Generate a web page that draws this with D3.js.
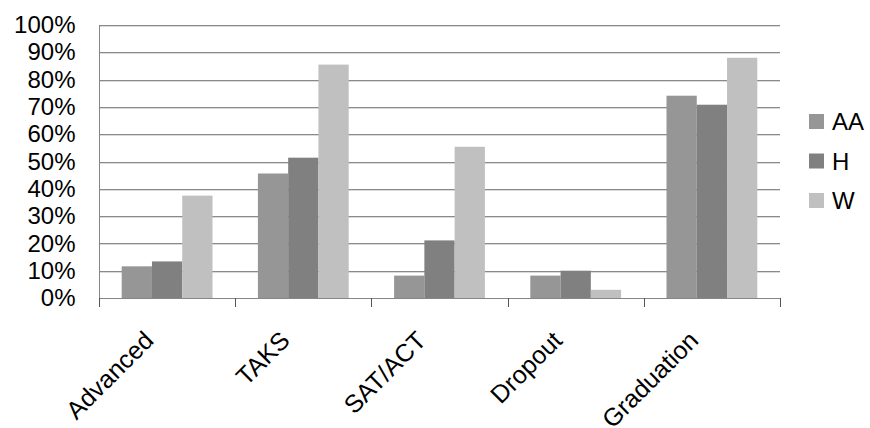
<!DOCTYPE html>
<html>
<head>
<meta charset="utf-8">
<script src="https://cdn.jsdelivr.net/npm/d3@7"></script>
<style>
  html, body { margin: 0; padding: 0; background: #fff; }
  svg { display: block; font-family: "Liberation Sans", Arial, sans-serif; }
</style>
</head>
<body>
<svg id="chart" width="870" height="428"></svg>
<script>
// Outcome measures by student group
const categories = ["Advanced", "TAKS", "SAT/ACT", "Dropout", "Graduation"];
const seriesNames = ["AA", "H", "W"];
const valuesAA = [0.116, 0.456, 0.082, 0.082, 0.741];
const valuesH  = [0.134, 0.514, 0.211, 0.100, 0.708];
const valuesW  = [0.375, 0.855, 0.554, 0.030, 0.880];
const yTicks = [0, 0.1, 0.2, 0.3, 0.4, 0.5, 0.6, 0.7, 0.8, 0.9, 1.0];
const colors = ["#969696", "#808080", "#c0c0c0"];

const series = [valuesAA, valuesH, valuesW];
const rows = categories.map((c, i) => ({
  category: c,
  values: seriesNames.map((s, k) => ({ key: s, value: series[k][i] }))
}));

const svg = d3.select("#chart");
const plotLeft = 99, plotRight = 780, plotTop = 25, plotBottom = 298;
const fontSize = 24;
const labelFontSize = 25;

const x0 = d3.scaleBand().domain(categories).range([plotLeft, plotRight]).padding(0);
const bw = x0.bandwidth() / 4.5;
const x1 = d3.scaleBand().domain(seriesNames).range([0.75 * bw, 3.75 * bw]).padding(0);
const y = d3.scaleLinear().domain([0, 1]).range([plotBottom, plotTop]);

// Horizontal gridlines
const grid = svg.append("g");
yTicks.filter(t => t > 0).forEach(t => {
  const yy = Math.round(y(t)) + 0.5;
  grid.append("line").attr("x1", plotLeft).attr("x2", plotRight)
    .attr("y1", yy).attr("y2", yy).attr("stroke", "#8a8a8a");
  grid.append("line").attr("x1", plotLeft).attr("x2", plotRight)
    .attr("y1", yy + 1).attr("y2", yy + 1).attr("stroke", "#dadada");
});

// Bars
svg.append("g").selectAll("g").data(rows).join("g")
  .attr("transform", d => `translate(${x0(d.category)},0)`)
  .selectAll("rect").data(d => d.values).join("rect")
  .attr("x", d => x1(d.key))
  .attr("width", x1.bandwidth())
  .attr("y", d => y(d.value))
  .attr("height", d => y(0) - y(d.value))
  .attr("fill", (d, i) => colors[i]);

// Y axis
const yAxis = d3.axisLeft(y).tickValues(yTicks).tickFormat(d3.format(".0%")).tickSize(0).tickPadding(24);
const yg = svg.append("g").attr("transform", `translate(${plotLeft + 0.5},0)`).call(yAxis);
yg.select(".domain").remove();
yg.selectAll("text").attr("font-size", fontSize).attr("fill", "#000")
  .attr("font-family", "Liberation Sans, Arial, sans-serif");
svg.append("line").attr("x1", plotLeft + 0.5).attr("x2", plotLeft + 0.5)
  .attr("y1", plotTop).attr("y2", plotBottom + 5).attr("stroke", "#868686");

// X axis
const tickXs = categories.map(c => x0(c)).concat([plotRight]);
const xg = svg.append("g");
xg.append("line").attr("x1", plotLeft).attr("x2", plotRight + 0.5)
  .attr("y1", plotBottom + 0.5).attr("y2", plotBottom + 0.5).attr("stroke", "#868686");
xg.selectAll("line.tick").data(tickXs).join("line").attr("class", "tick")
  .attr("x1", d => Math.round(d) + 0.5).attr("x2", d => Math.round(d) + 0.5)
  .attr("y1", plotBottom).attr("y2", plotBottom + 9).attr("stroke", "#555");

// Rotated category labels
svg.append("g").selectAll("text").data(categories).join("text")
  .attr("transform", c => `translate(${x0(c) + x0.bandwidth() / 2 - 12},${plotBottom + 44}) rotate(-45)`)
  .attr("text-anchor", "end")
  .attr("font-size", labelFontSize)
  .attr("fill", "#000")
  .text(c => c);

// Legend
const legend = svg.append("g").selectAll("g").data(seriesNames).join("g")
  .attr("transform", (d, i) => `translate(809,${114 + i * 39.5})`);
legend.append("rect").attr("width", 15).attr("height", 15)
  .attr("fill", (d, i) => colors[i]);
legend.append("text").attr("x", 23).attr("y", 16)
  .attr("font-size", fontSize).attr("fill", "#000").text(d => d);
</script>
</body>
</html>
